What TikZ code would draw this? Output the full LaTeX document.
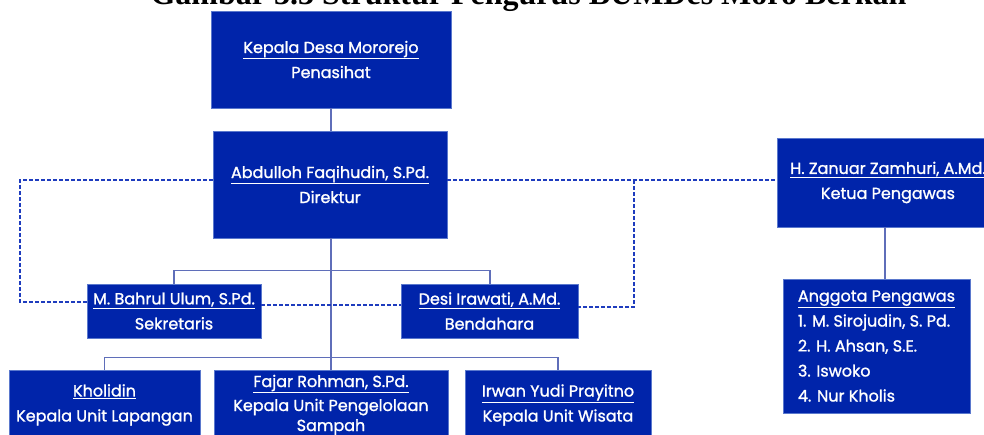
\documentclass[tikz,border=0pt]{standalone}
\usepackage{fontspec}
\setmainfont{Poppins}
\newfontfamily\boxfont{Poppins}[FakeBold=1.2]
\newfontfamily\titlefont{Liberation Serif}
\definecolor{boxfill}{RGB}{0,36,170}
\definecolor{boxedge}{RGB}{90,120,205}
\definecolor{solidline}{RGB}{95,110,185}
\definecolor{dashline}{RGB}{30,60,190}
\tikzset{
  orgbox/.style={draw=boxedge, line width=0.8pt, fill=boxfill, text=white, inner sep=0pt, align=center,
    font=\boxfont\fontsize{16}{25}\selectfont},
  solidconn/.style={draw=solidline, line width=1.1pt},
  dashconn/.style={draw=dashline, line width=1.6pt, dash pattern=on 4pt off 2pt},
}
\begin{document}
\begin{tikzpicture}[x=1pt, y=-1pt]
\useasboundingbox (0,0) rectangle (984,434);
\clip (0,0) rectangle (984,434);
\node[anchor=base, font=\titlefont\bfseries\fontsize{32}{32}\selectfont] (title) at (528.5,4.5) {Gambar 3.3 Struktur Pengurus BUMDes Moro Berkah};

\node[orgbox, minimum width=240, minimum height=97] (kepala) at (331,59.5) {\underline{Kepala Desa Mororejo}\\Penasihat};
\node[orgbox, minimum width=234, minimum height=107] (direktur) at (330,184.5) {\underline{Abdulloh Faqihudin, S.Pd.}\\Direktur};
\node[orgbox, minimum width=174, minimum height=54] (sekretaris) at (174,311) {\underline{M. Bahrul Ulum, S.Pd.}\\Sekretaris};
\node[orgbox, minimum width=177, minimum height=54] (bendahara) at (489.5,311) {\underline{Desi Irawati, A.Md.}\\Bendahara};
\node[orgbox, minimum width=191, minimum height=70] (kholidin) at (104.5,405) {\underline{Kholidin}\\Kepala Unit Lapangan};
\node[orgbox, minimum width=234, minimum height=70] (fajar) at (331,405) {\raisebox{-1pt}{\underline{Fajar Rohman, S.Pd.}}\\Kepala Unit Pengelolaan\\[-5pt]Sampah};
\node[orgbox, minimum width=186, minimum height=70] (irwan) at (558,405) {\underline{Irwan Yudi Prayitno}\\Kepala Unit Wisata};
\node[orgbox, minimum width=222, minimum height=89] (pengawas) at (888,182.5) {\underline{H. Zanuar Zamhuri, A.Md.}\\Ketua Pengawas};
\node[orgbox, align=left, minimum width=187, minimum height=134] (anggota) at (876.5,346) {\underline{Anggota Pengawas}\\1. M. Sirojudin, S. Pd.\\2. H. Ahsan, S.E.\\3. Iswoko\\4. Nur Kholis};

% solid connectors
\draw[solidconn] (kepala.south) -- (kepala.south |- direktur.north);
\draw[solidconn] (direktur.south -| kepala.south) -- (fajar.north);
\draw[solidconn] (sekretaris.north) -- ++(0,-13) -| ([xshift=0.5pt]bendahara.north);
\draw[solidconn] (kholidin.north) -- ++(0,-12) -| (irwan.north);
\draw[solidconn] ([xshift=8.5pt]anggota.north) -- ([xshift=8.5pt]anggota.north |- pengawas.south);

% dashed connectors
\coordinate (dl) at (20,180);
\coordinate (dr) at (634,180);
\draw[dashconn] ([yshift=4.5pt]direktur.west) -- (dl) |- ([yshift=9pt]sekretaris.west);
\draw[dashconn] ([yshift=6pt]sekretaris.east) -- ([yshift=6pt]bendahara.west);
\draw[dashconn] ([yshift=4.5pt]direktur.east) -- ([yshift=2.5pt]pengawas.west);
\draw[dashconn] (dr) |- ([yshift=4pt]bendahara.east);
\end{tikzpicture}
\end{document}
